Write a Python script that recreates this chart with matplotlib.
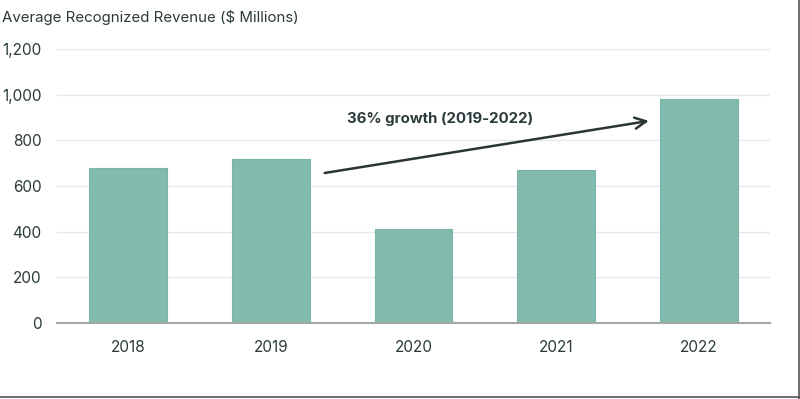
import matplotlib
matplotlib.use("Agg")
import matplotlib.pyplot as plt
from matplotlib.lines import Line2D

years = ["2018", "2019", "2020", "2021", "2022"]
revenue = [680, 720, 410, 670, 980]
yticks = [0, 200, 400, 600, 800, 1000, 1200]
ytick_labels = ["0", "200", "400", "600", "800", "1,000", "1,200"]
title = "Average Recognized Revenue ($ Millions)"
annotation = "36% growth (2019-2022)"

plt.rcParams['font.family'] = ['Inter', 'DejaVu Sans']
text_color = "#2b3a3a"
bar_color = "#82bbad"

fig = plt.figure(figsize=(8, 3.99), dpi=100)
ax = fig.add_axes([0.071, 0.1905, 0.8915, 0.6867])
x = list(range(len(years)))
ax.bar(x, revenue, width=0.545, color=bar_color, edgecolor="#7ab5a7", linewidth=0.8, zorder=3)
ax.set_xlim(-0.5, 4.5)
ax.set_ylim(0, 1200)
ax.set_yticks(yticks)
ax.set_yticklabels(ytick_labels)
ax.set_xticks(x)
ax.set_xticklabels(years)
ax.tick_params(axis='both', length=0, labelsize=11, colors=text_color)
ax.tick_params(axis='y', pad=11)
ax.tick_params(axis='x', pad=12)
ax.grid(axis='y', color="#e6eaea", linewidth=1, zorder=0)
for s in ['top', 'right', 'left']:
    ax.spines[s].set_visible(False)
ax.spines['bottom'].set_color("#a3a7a7")
ax.spines['bottom'].set_linewidth(1.5)
ax.spines['bottom'].set_zorder(4)

ax.annotate("", xy=(3.65, 885), xytext=(1.378, 657),
            arrowprops=dict(arrowstyle="->", color="#2b3535", lw=1.8,
                            mutation_scale=20, shrinkA=0, shrinkB=0), zorder=5)
ax.text(2.19, 893, annotation, ha='center', va='center', fontsize=10.8,
        fontweight='bold', color=text_color)

fig.text(0.003, 0.957, title, ha='left', va='center', fontsize=10.8, color=text_color)

fig.add_artist(Line2D([0, 1], [0.004, 0.004], transform=fig.transFigure, color="#555555", lw=1.2))
fig.add_artist(Line2D([0.9985, 0.9985], [0, 1], transform=fig.transFigure, color="#555555", lw=1.2))

fig.savefig("out.png", dpi=100)
